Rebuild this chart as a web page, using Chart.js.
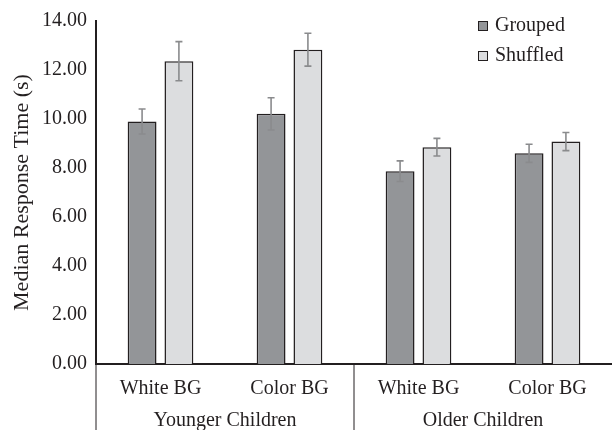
<!DOCTYPE html>
<html>
<head>
<meta charset="utf-8">
<script src="https://cdn.jsdelivr.net/npm/chart.js@4.4.1/dist/chart.umd.min.js"></script>
<style>
  body { margin: 0; background: #fff; }
  #wrap { width: 612px; height: 430px; }
</style>
</head>
<body>
<div id="wrap"><canvas id="rtChart"></canvas></div>
<script>
// Dữ liệu
const categories = ['White BG', 'Color BG', 'White BG', 'Color BG'];
const groupLabels = ['Younger Children', 'Older Children'];
const seriesNames = ['Grouped', 'Shuffled'];
const groupedValues = [9.90, 10.21, 7.87, 8.60];
const groupedErrors = [0.51, 0.66, 0.42, 0.37];
const shuffledValues = [12.36, 12.83, 8.85, 9.08];
const shuffledErrors = [0.80, 0.67, 0.36, 0.37];
const yTicks = [0, 2, 4, 6, 8, 10, 12, 14];

const FONT = "'Liberation Serif', 'Times New Roman', serif";
const INK = '#231f20';

// Error bars: vẽ từ giá trị qua trục y
const errorBarPlugin = {
    id: 'errorBars',
    afterDatasetsDraw(chart) {
        const ctx = chart.ctx;
        const y = chart.scales.y;
        chart.data.datasets.forEach((ds, di) => {
            const meta = chart.getDatasetMeta(di);
            meta.data.forEach((bar, i) => {
                const v = ds.data[i], e = ds.errors[i];
                const top = y.getPixelForValue(v + e);
                const bot = y.getPixelForValue(v - e);
                ctx.save();
                ctx.strokeStyle = '#8a8b8d';
                ctx.lineWidth = 1.6;
                ctx.beginPath();
                ctx.moveTo(bar.x, top); ctx.lineTo(bar.x, bot);
                ctx.moveTo(bar.x - 3.5, top); ctx.lineTo(bar.x + 3.5, top);
                ctx.moveTo(bar.x - 3.5, bot); ctx.lineTo(bar.x + 3.5, bot);
                ctx.stroke();
                ctx.restore();
            });
        });
    }
};

// Nhãn nhóm và đường phân cách dưới trục x
const groupAxisPlugin = {
    id: 'groupAxis',
    afterDraw(chart) {
        const ctx = chart.ctx;
        const x = chart.scales.x;
        const area = chart.chartArea;
        const edges = [x.left, (x.getPixelForValue(1) + x.getPixelForValue(2)) / 2];
        ctx.save();
        ctx.strokeStyle = INK;
        ctx.lineWidth = 1;
        edges.forEach(px => {
            ctx.beginPath();
            ctx.moveTo(px, area.bottom);
            ctx.lineTo(px, chart.height);
            ctx.stroke();
        });
        ctx.fillStyle = INK;
        ctx.font = '20px ' + FONT;
        ctx.textAlign = 'center';
        ctx.textBaseline = 'middle';
        groupLabels.forEach((g, gi) => {
            const cx = (x.getPixelForValue(gi * 2) + x.getPixelForValue(gi * 2 + 1)) / 2;
            ctx.fillText(g, cx, 421);
        });
        ctx.restore();
    }
};

// Chú thích ở góc trên bên phải
const boxLegendPlugin = {
    id: 'boxLegend',
    afterDraw(chart) {
        const ctx = chart.ctx;
        ctx.save();
        ctx.font = '20px ' + FONT;
        ctx.textBaseline = 'middle';
        chart.data.datasets.forEach((ds, i) => {
            const cy = 26 + i * 30;
            ctx.fillStyle = ds.backgroundColor;
            ctx.fillRect(478.5, cy - 4.5, 9, 9);
            ctx.strokeStyle = INK;
            ctx.lineWidth = 1;
            ctx.strokeRect(478.5, cy - 4.5, 9, 9);
            ctx.fillStyle = INK;
            ctx.fillText(ds.label, 495, cy);
        });
        ctx.restore();
    }
};

function renderChart() {
    const ctx = document.getElementById('rtChart').getContext('2d');
    new Chart(ctx, {
        type: 'bar',
        data: {
            labels: categories,
            datasets: [
                {
                    label: seriesNames[0],
                    data: groupedValues,
                    errors: groupedErrors,
                    backgroundColor: '#939598',
                    borderColor: INK,
                    borderWidth: 1.5
                },
                {
                    label: seriesNames[1],
                    data: shuffledValues,
                    errors: shuffledErrors,
                    backgroundColor: '#dcdddf',
                    borderColor: INK,
                    borderWidth: 1.5
                }
            ]
        },
        options: {
            responsive: true,
            maintainAspectRatio: false,
            devicePixelRatio: 1,
            animation: false,
            categoryPercentage: 0.571,
            barPercentage: 0.784,
            layout: { padding: { top: 21, right: 0, bottom: 24, left: 0 } },
            plugins: {
                legend: { display: false },
                tooltip: { enabled: false }
            },
            scales: {
                x: {
                    grid: { display: false },
                    border: { display: true, color: INK, width: 2 },
                    ticks: { color: INK, padding: 5, font: { family: FONT, size: 20 } }
                },
                y: {
                    min: yTicks[0],
                    max: yTicks[yTicks.length - 1],
                    afterBuildTicks: scale => { scale.ticks = yTicks.map(v => ({ value: v })); },
                    afterFit: scale => { scale.width = 96; },
                    grid: { display: false },
                    border: { display: true, color: INK, width: 2 },
                    ticks: {
                        color: INK,
                        padding: 1,
                        font: { family: FONT, size: 20 },
                        callback: v => Number(v).toFixed(2)
                    },
                    title: {
                        display: true,
                        text: 'Median Response Time (s)',
                        color: INK,
                        padding: { top: 9, bottom: 0 },
                        font: { family: FONT, size: 22 }
                    }
                }
            }
        },
        plugins: [errorBarPlugin, groupAxisPlugin, boxLegendPlugin]
    });
}

document.addEventListener('DOMContentLoaded', renderChart);
</script>
</body>
</html>
